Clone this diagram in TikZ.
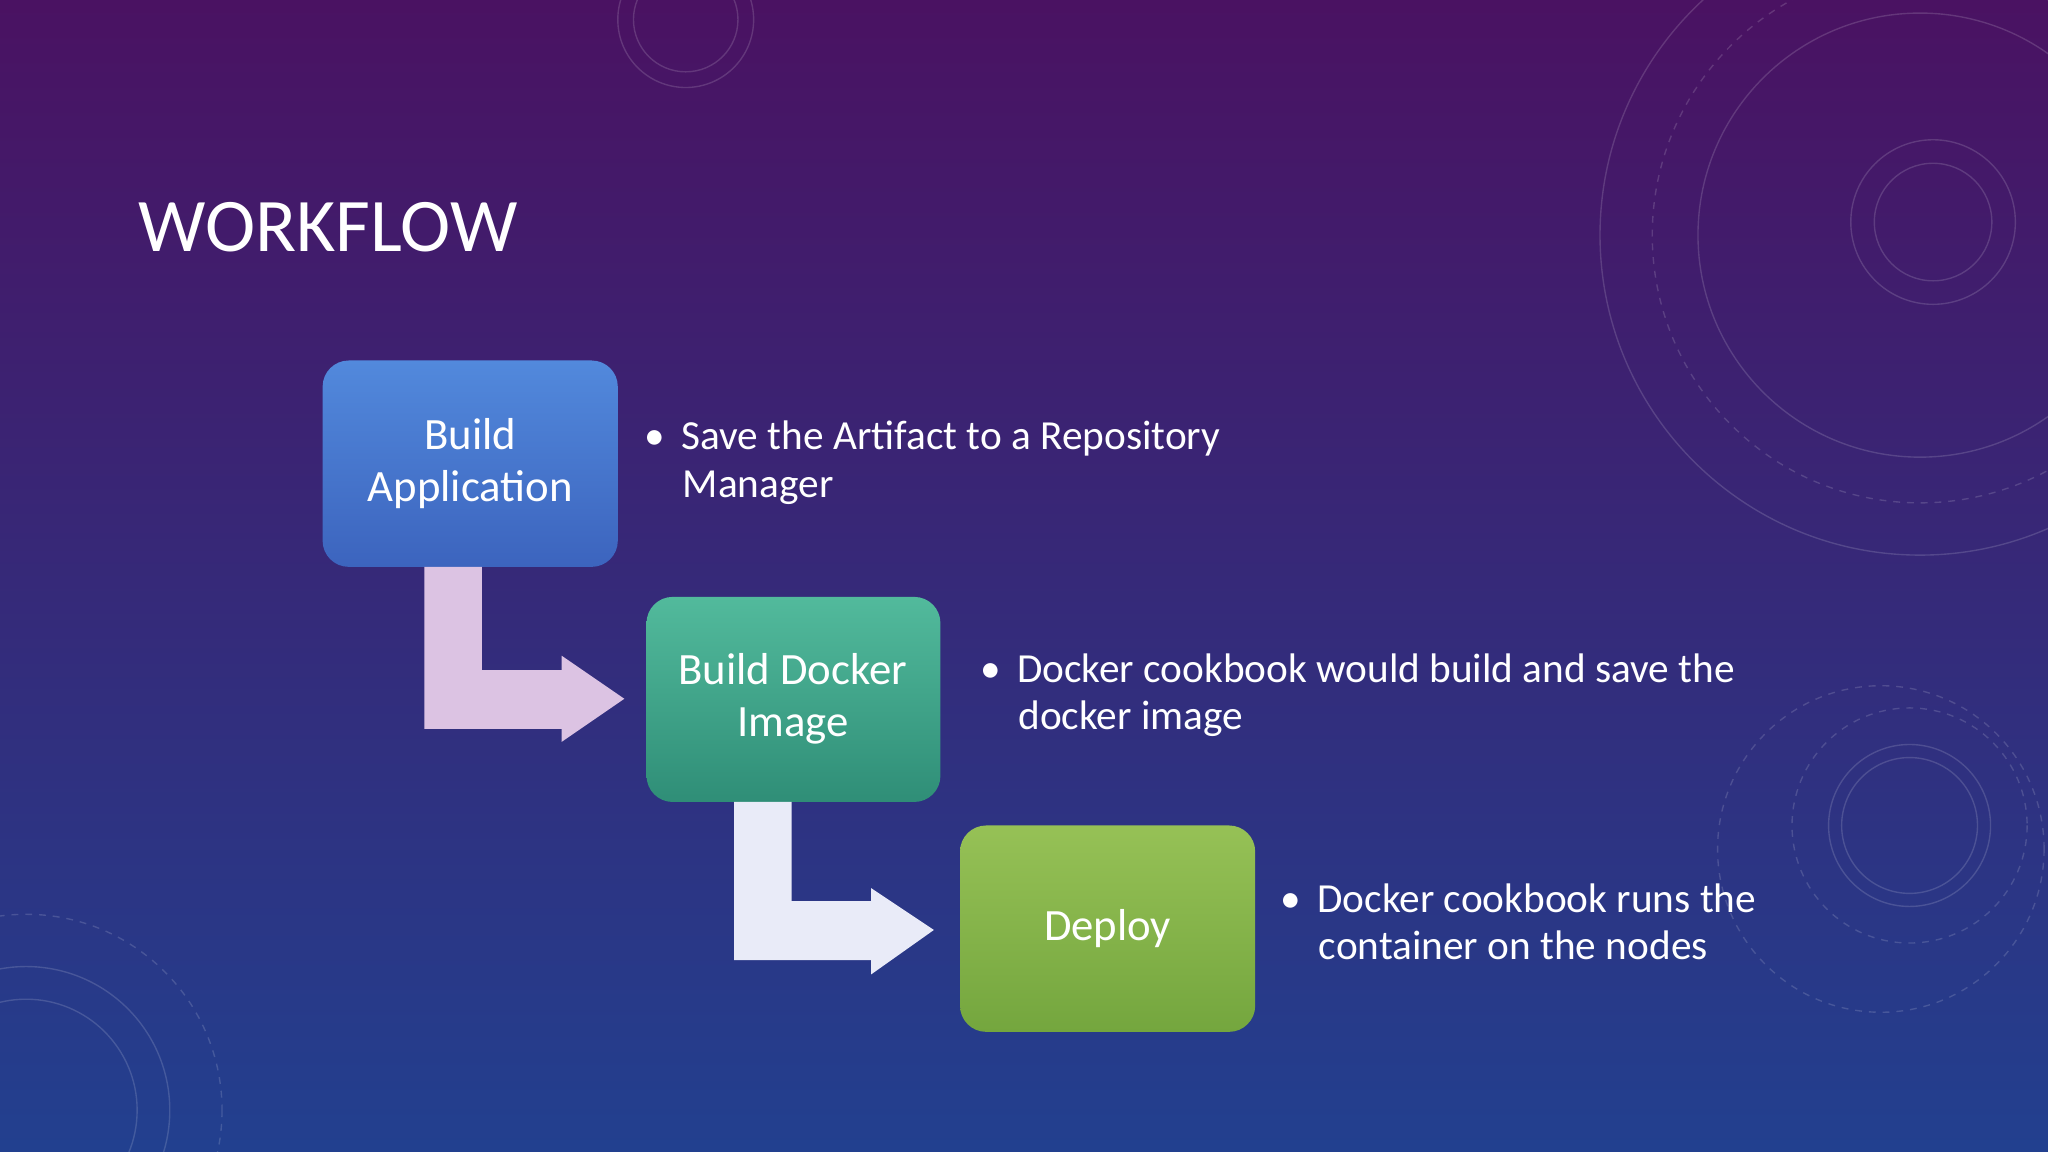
\documentclass[tikz,border=0pt]{standalone}
\usepackage{fontspec}
\setmainfont{Carlito}
\definecolor{bgtop}{HTML}{4A1262}
\definecolor{bgmid}{HTML}{3A2088}
\definecolor{bgbot}{HTML}{22408F}
\definecolor{b1t}{HTML}{5289DC}\definecolor{b1b}{HTML}{3C64BE}
\definecolor{b2t}{HTML}{52BA9C}\definecolor{b2b}{HTML}{2F8E77}
\definecolor{b3t}{HTML}{96C156}\definecolor{b3b}{HTML}{74A63E}
\definecolor{ar1}{HTML}{DCC3E3}\definecolor{ar2}{HTML}{E9EBF8}
\begin{document}
\begin{tikzpicture}[x=0.02cm,y=-0.02cm,
  box/.style={text=white,align=center,font=\fontsize{19.5}{23}\selectfont,inner sep=0pt},
  bul/.style={anchor=north west,text=white,align=left,font=\fontsize{18}{20.7}\selectfont,inner sep=0pt}]
\useasboundingbox (0,0) rectangle (1568,882);
\shade[top color=bgtop, middle color=bgmid, bottom color=bgbot] (0,0) rectangle (1568,882);
% decorations
\begin{scope}[white,opacity=0.15,line width=0.6pt]
\draw (1480,170) circle (45);
\draw (1480,170) circle (63);
\draw (1470,180) circle (170);
\draw[dashed] (1470,180) circle (205);
\draw (1470,180) circle (245);
\draw (1462,632) circle (52);
\draw (1462,632) circle (62);
\draw[dashed] (1462,632) circle (90);
\draw[dashed] (1440,650) circle (125);
\draw (525,15) circle (40);
\draw (525,15) circle (52);
\draw (20,850) circle (85);
\draw (20,850) circle (110);
\draw[dashed] (20,850) circle (150);
\end{scope}
\node[anchor=west,text=white,font=\fontsize{33}{36}\selectfont] (title) at (100,174) {WORKFLOW};
% boxes
\shade[rounded corners=0.4cm,top color=b1t,bottom color=b1b] (247,276) rectangle (473,434);
\node[box] (b1) at (360,355) {Build\\Application};
\shade[rounded corners=0.4cm,top color=b2t,bottom color=b2b] (495,457) rectangle (720,614);
\node[box] (b2) at (607,535) {Build Docker\\Image};
\shade[rounded corners=0.4cm,top color=b3t,bottom color=b3b] (735,632) rectangle (961,790);
\node[box] (b3) at (848,711) {Deploy};
% bent arrows
\fill[ar1] (325,434) -- (369,434) -- (369,513) -- (430,513) -- (430,502) -- (478,535) -- (430,568) -- (430,558) -- (325,558) -- cycle;
\fill[ar2] (562,614) -- (606,614) -- (606,690) -- (667,690) -- (667,680) -- (715,712) -- (667,746) -- (667,735) -- (562,735) -- cycle;
% bullets
\node[bul] (t1) at (493,322) {\textbullet\hspace{0.4em}Save the Artifact to a Repository\\\hspace{0.93em}Manager};
\node[bul] (t2) at (750,500) {\textbullet\hspace{0.4em}Docker cookbook would build and save the\\\hspace{0.93em}docker image};
\node[bul] (t3) at (980,676) {\textbullet\hspace{0.4em}Docker cookbook runs the\\\hspace{0.93em}container on the nodes};
\end{tikzpicture}
\end{document}
